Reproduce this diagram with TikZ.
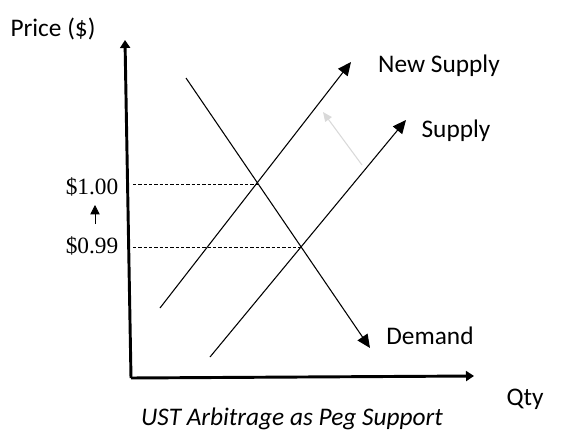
\documentclass[tikz,border=0pt]{standalone}
\usepackage{fontspec}
\setmainfont{Carlito}
\newfontfamily\pricefont{Liberation Serif}
\usetikzlibrary{arrows.meta,positioning}
\definecolor{shiftgray}{HTML}{D9D9D9}

\begin{document}
\begin{tikzpicture}[x=0.75pt, y=-0.75pt,
    lbl/.style={font=\fontsize{19}{21}\selectfont, inner sep=0pt},
    price/.style={font=\pricefont\fontsize{17.5}{19}\selectfont, inner sep=0pt},
    curve/.style={line width=0.8pt, -{Triangle[length=10pt, width=9pt]}},
    axis/.style={line width=2.2pt, -{Triangle[length=6pt, width=7.5pt]}},
    guide/.style={line width=0.5pt, dash pattern=on 2.5pt off 1.5pt}]
    \useasboundingbox (0,0) rectangle (576,446);

    % Nodes
    \coordinate (origin) at (131,378);
    \coordinate (ytop) at (125,40);
    \coordinate (xend) at (474,376);
    \node (ylabel) [lbl] at (53,29) {Price (\$)};
    \node (xlabel) [lbl] at (525,399) {Qty};
    \node (caption) [lbl, font=\itshape\fontsize{19}{21}\selectfont] at (292,419) {UST Arbitrage as Peg Support};
    \node (newsupplylbl) [lbl] at (439,66) {New Supply};
    \node (supplylbl) [lbl] at (456,131) {Supply};
    \node (demandlbl) [lbl] at (430,336) {Demand};
    \node (pnew) [price] at (92,187) {\$1.00};
    \node (pold) [price] at (92,246) {\$0.99};

    \coordinate (dtop) at (186,78);
    \coordinate (dbot) at (370,348);
    \coordinate (sbot) at (210,357);
    \coordinate (stop) at (406,120);
    \coordinate (nsbot) at (160,308);
    \coordinate (nstop) at (351,62);
    \coordinate (eqnew) at (258,184);
    \coordinate (eqold) at (301,247);
    \coordinate (ynew) at (133,184);
    \coordinate (yold) at (133,247);
    \coordinate (shiftfrom) at (362,165);
    \coordinate (shiftto) at (323,112);
    \coordinate (uptail) at (95,224);
    \coordinate (uphead) at (95,205);

    % Edges
    \draw[guide] (ynew) -- (eqnew);
    \draw[guide] (yold) -- (eqold);
    \draw[curve] (dtop) -- (dbot);
    \draw[curve] (sbot) -- (stop);
    \draw[curve] (nsbot) -- (nstop);
    \draw[shiftgray, line width=0.8pt, -{Triangle[length=7pt, width=6pt]}] (shiftfrom) -- (shiftto);
    \draw[line width=0.6pt, -{Triangle[length=7pt, width=7pt]}] (uptail) -- (uphead);
    \draw[axis] (origin) -- (ytop);
    \draw[axis] (origin) -- (xend);
\end{tikzpicture}
\end{document}
